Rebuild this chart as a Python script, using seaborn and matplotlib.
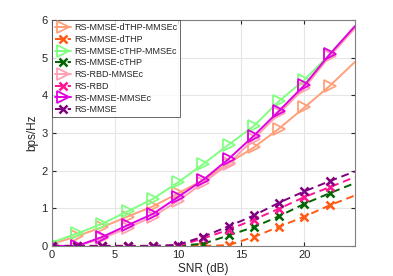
import matplotlib
matplotlib.use("Agg")
import matplotlib.pyplot as plt
import seaborn as sns
import pandas as pd
import numpy as np

snr = [0, 2, 4, 6, 8, 10, 12, 14, 16, 18, 20, 22, 24]

dthp_mmsec = [0.05, 0.26, 0.50, 0.78, 1.05, 1.40, 1.75, 2.20, 2.62, 3.12, 3.68, 4.25, 4.89]
dthp       = [0.0, 0.0, 0.0, 0.0, 0.0, 0.0, 0.0, 0.02, 0.24, 0.51, 0.78, 1.08, 1.34]
cthp_mmsec = [0.09, 0.33, 0.59, 0.92, 1.25, 1.69, 2.18, 2.69, 3.19, 3.85, 4.41, 5.09, 5.82]
cthp       = [0.0, 0.0, 0.0, 0.0, 0.0, 0.0, 0.06, 0.28, 0.50, 0.79, 1.12, 1.40, 1.67]
rbd_mmsec  = [0.0, 0.0, 0.20, 0.48, 0.78, 1.20, 1.68, 2.18, 2.85, 3.52, 4.20, 5.04, 5.78]
rbd        = [0.0, 0.0, 0.0, 0.0, 0.0, 0.0, 0.20, 0.43, 0.70, 0.99, 1.30, 1.56, 1.83]
mmse_mmsec = [0.0, 0.0, 0.24, 0.55, 0.85, 1.30, 1.76, 2.31, 2.93, 3.59, 4.27, 5.09, 5.84]
mmse       = [0.0, 0.0, 0.0, 0.0, 0.0, 0.03, 0.25, 0.52, 0.81, 1.15, 1.45, 1.72, 1.98]

labels = ["RS-MMSE-dTHP-MMSEc", "RS-MMSE-dTHP", "RS-MMSE-cTHP-MMSEc", "RS-MMSE-cTHP",
          "RS-RBD-MMSEc", "RS-RBD", "RS-MMSE-MMSEc", "RS-MMSE"]
series = [dthp_mmsec, dthp, cthp_mmsec, cthp, rbd_mmsec, rbd, mmse_mmsec, mmse]
colors = ["#FFA07A", "#FF5A14", "#80FF80", "#006400", "#FFA0B4", "#FF1493", "#E000E0", "#800080"]
markers = [">", "x", ">", "x", ">", "x", ">", "x"]
styles = ["-", "--", "-", "--", "-", "--", "-", "--"]

sns.set_style("white")
plt.rcParams['font.family'] = ['Liberation Sans', 'DejaVu Sans']

fig = plt.figure(figsize=(3.93, 2.76), dpi=100)
ax = fig.add_axes([0.132, 0.109, 0.771, 0.818])

for lab, vals, c, m, ls in zip(labels, series, colors, markers, styles):
    df = pd.DataFrame({"SNR": snr, "val": vals})
    tri = (m == ">")
    sns.lineplot(data=df, x="SNR", y="val", ax=ax, color=c, linewidth=1.4,
                 marker=m, markersize=8 if tri else 5.5, markevery=list(range(12)),
                 markerfacecolor="none" if tri else c, markeredgecolor=c,
                 markeredgewidth=1.3 if tri else 1.8, label=lab,
                 **({} if tri else {"dashes": (4, 2.5)}))

ax.set_xlim(0, 24)
ax.set_ylim(0, 6)
ax.set_xticks([0, 5, 10, 15, 20])
ax.set_yticks([0, 1, 2, 3, 4, 5, 6])
ax.grid(True, color="#e6e6e6", linewidth=0.8)
for s in ax.spines.values():
    s.set_color("#808080")
    s.set_linewidth(0.8)
ax.tick_params(axis="both", labelsize=8, colors="#262626", length=3, direction="in",
               top=True, right=True, bottom=True, left=True, pad=3)
ax.set_xlabel("SNR (dB)", fontsize=8.5, color="#262626", labelpad=2)
ax.set_ylabel("bps/Hz", fontsize=8.5, color="#262626", labelpad=2)

leg = ax.legend(loc="upper left", fontsize=6.5, frameon=True, fancybox=False,
                borderaxespad=0, handlelength=1.8, handletextpad=0.3,
                labelspacing=0.3, borderpad=0.35)
leg.get_frame().set_edgecolor("#262626")
leg.get_frame().set_linewidth(0.6)

fig.savefig("out.png", dpi=100)
